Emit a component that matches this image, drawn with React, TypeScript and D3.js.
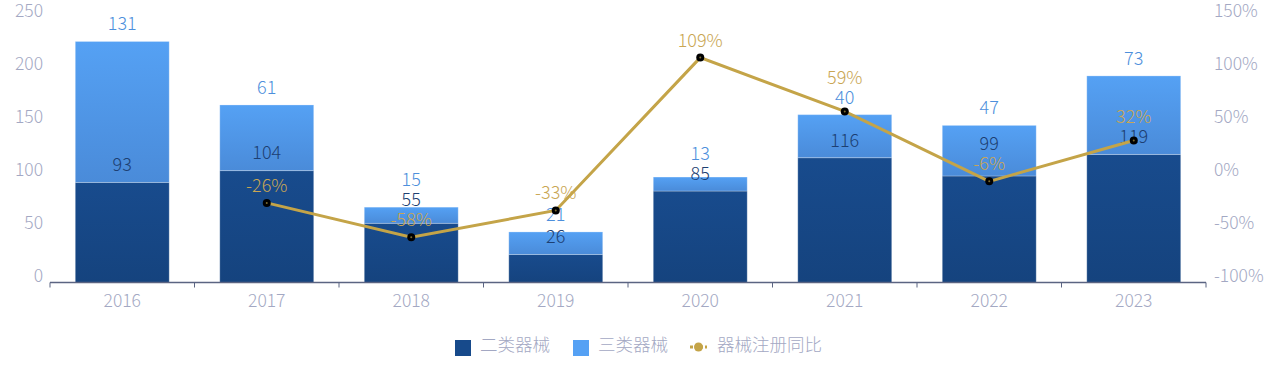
import React from "react";
import * as d3 from "d3";

const years = ["2016", "2017", "2018", "2019", "2020", "2021", "2022", "2023"];
const class2 = [93, 104, 55, 26, 85, 116, 99, 119];
const class3 = [131, 61, 15, 21, 13, 40, 47, 73];
const yoy: (number | null)[] = [null, -26, -58, -33, 109, 59, -6, 32];
const leftTicks = [0, 50, 100, 150, 200, 250];
const rightTicks = [-100, -50, 0, 50, 100, 150];
const legendLabels = ["二类器械", "三类器械", "器械注册同比"];

const FONT = "'Noto Sans CJK SC', 'Noto Sans', sans-serif";
const W = 1280;
const H = 382;
const left = 50;
const right = 1206;
const top = 13.5;
const bottom = 282.5;

type Lbl = { x: number; y: number; text: string; color: string; kind: number };

export default function App() {
  const x = d3.scaleBand<string>().domain(years).range([left, right]).padding(0);
  const bw = x.bandwidth() * 0.65;
  const y = d3.scaleLinear().domain([0, 250]).range([bottom, top]);
  const y2 = d3.scaleLinear().domain([-100, 150]).range([bottom, top]);
  // axis label placement scales
  const yl = d3.scaleLinear().domain([0, 250]).range([277.5, 12.5]);
  const yl2 = d3.scaleLinear().domain([-100, 150]).range([277.5, 12.5]);
  const cx = (c: string) => (x(c) as number) + x.bandwidth() / 2;

  const pts = years
    .map((c, i) => ({ c, v: yoy[i] }))
    .filter((d) => d.v !== null) as { c: string; v: number }[];
  const line = d3
    .line<{ c: string; v: number }>()
    .x((d) => cx(d.c))
    .y((d) => y2(d.v));

  const gap = 20;
  const off = 16;
  const barLabels: Lbl[] = [];
  const lineLabels: Lbl[] = [];
  years.forEach((c, i) => {
    const col: Lbl[] = [
      { x: cx(c), y: y(class2[i]) - off, text: String(class2[i]), color: "#1d3f72", kind: 0 },
      { x: cx(c), y: y(class2[i] + class3[i]) - off, text: String(class3[i]), color: "#4d8fdc", kind: 1 },
    ];
    const v = yoy[i];
    if (v !== null) col.push({ x: cx(c), y: y2(v) - off, text: v + "%", color: "#c9a653", kind: 2 });
    col.sort((a, b) => b.y - a.y);
    for (let k = 1; k < col.length; k++) {
      if (col[k].y > col[k - 1].y - gap) col[k].y = col[k - 1].y - gap;
    }
    col.forEach((l) => (l.kind === 2 ? lineLabels : barLabels).push(l));
  });

  const labelColor = "#a3a8c3";

  return (
    <svg width={W} height={H} style={{ display: "block", position: "absolute", left: 0, top: 0 }} fontFamily={FONT} fontWeight={300}>
      <defs>
        <linearGradient id="gDark" x1="0" y1="0" x2="0" y2="1">
          <stop offset="0%" stopColor="#184b8d" />
          <stop offset="100%" stopColor="#15437e" />
        </linearGradient>
        <linearGradient id="gLight" x1="0" y1="0" x2="0" y2="1">
          <stop offset="0%" stopColor="#55a1f4" />
          <stop offset="100%" stopColor="#4a8bd9" />
        </linearGradient>
      </defs>

      {leftTicks.map((t) => (
        <text key={"l" + t} x={43} y={yl(t)} textAnchor="end" dominantBaseline="middle" fontSize={17.5} fill={labelColor}>
          {t}
        </text>
      ))}
      {rightTicks.map((t) => (
        <text key={"r" + t} x={1214} y={yl2(t)} textAnchor="start" dominantBaseline="middle" fontSize={17.5} fill={labelColor}>
          {t + "%"}
        </text>
      ))}

      {years.map((c, i) => {
        const bx = cx(c) - bw / 2;
        const d0 = class2[i];
        const d1 = class3[i];
        return (
          <g key={"b" + c}>
            <rect x={bx} y={y(d0)} width={bw} height={y(0) - y(d0)} fill="url(#gDark)" stroke="rgba(255,255,255,0.25)" strokeWidth={1} />
            <rect x={bx} y={y(d0 + d1)} width={bw} height={y(d0) - y(d0 + d1)} fill="url(#gLight)" stroke="rgba(255,255,255,0.25)" strokeWidth={1} />
          </g>
        );
      })}

      <line x1={left} x2={right} y1={bottom} y2={bottom} stroke="#5b6482" strokeWidth={1.5} />
      {d3.range(years.length + 1).map((k) => {
        const xx = left + k * x.bandwidth();
        return <line key={"t" + k} x1={xx} x2={xx} y1={bottom} y2={bottom + 5} stroke="#5b6482" strokeWidth={1} />;
      })}
      {years.map((c) => (
        <text key={"x" + c} x={cx(c)} y={302} textAnchor="middle" dominantBaseline="middle" fontSize={17.5} fill={labelColor}>
          {c}
        </text>
      ))}

      {barLabels.map((l, k) => (
        <text key={"bl" + k} x={l.x} y={l.y} textAnchor="middle" dominantBaseline="middle" fontSize={18} fill={l.color}>
          {l.text}
        </text>
      ))}

      <path d={line(pts) || ""} fill="none" stroke="#c4a448" strokeWidth={3} />
      {pts.map((d) => (
        <g key={"p" + d.c}>
          <circle cx={cx(d.c)} cy={y2(d.v)} r={4} fill="#000" />
          <circle cx={cx(d.c)} cy={y2(d.v)} r={1} fill="#7a6a30" />
        </g>
      ))}
      {lineLabels.map((l, k) => (
        <text key={"ll" + k} x={l.x} y={l.y} textAnchor="middle" dominantBaseline="middle" fontSize={18} fill={l.color}>
          {l.text}
        </text>
      ))}

      <rect x={455} y={340} width={16} height={16} fill="#174a8b" />
      <text x={480} y={346} dominantBaseline="middle" fontSize={17.5} fill={labelColor}>{legendLabels[0]}</text>
      <rect x={573} y={340} width={16} height={16} fill="#55a1f4" />
      <text x={598} y={346} dominantBaseline="middle" fontSize={17.5} fill={labelColor}>{legendLabels[1]}</text>
      <line x1={690} x2={707} y1={347} y2={347} stroke="#c4a448" strokeWidth={3} strokeDasharray="3,2" />
      <circle cx={698.5} cy={347} r={4.5} fill="#c4a448" />
      <text x={717} y={346} dominantBaseline="middle" fontSize={17.5} fill={labelColor}>{legendLabels[2]}</text>
    </svg>
  );
}
